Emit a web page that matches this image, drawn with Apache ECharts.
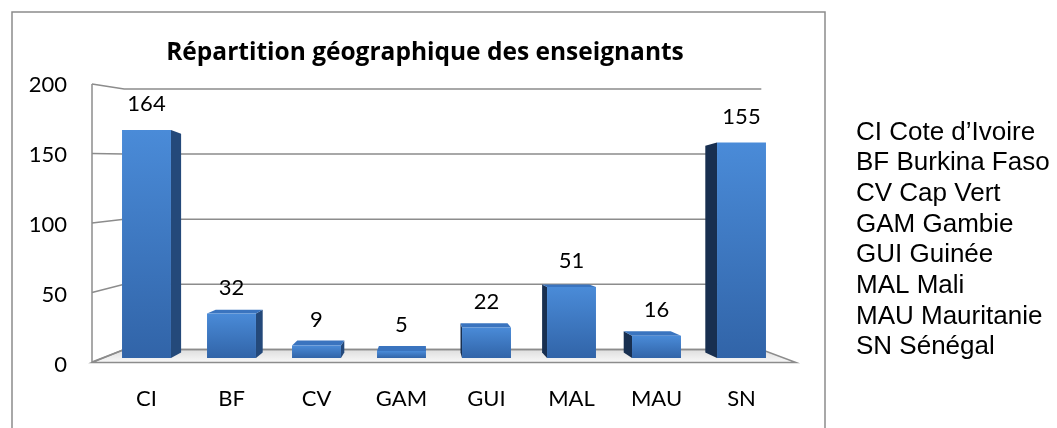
<!DOCTYPE html>
<html>
<head>
<meta charset="utf-8">
<script src="https://cdn.jsdelivr.net/npm/echarts@6/dist/echarts.min.js"></script>
<style>
  html, body { margin: 0; padding: 0; background: #fff; }
  #chart { width: 1057px; height: 428px; }
</style>
</head>
<body>
<div id="chart"></div>
<script>
// données
var categories = ['CI', 'BF', 'CV', 'GAM', 'GUI', 'MAL', 'MAU', 'SN'];
var enseignants = [164, 32, 9, 5, 22, 51, 16, 155];
var yTicks = [0, 50, 100, 150, 200];
var countryNames = ['Cote d\u2019Ivoire', 'Burkina Faso', 'Cap Vert', 'Gambie',
  'Guinée', 'Mali', 'Mauritanie', 'Sénégal'];

var chart = echarts.init(document.getElementById('chart'));

// point de fuite de la fausse perspective 3D
var VP = [424, 222];
function persp(x, y, s) {
  return [VP[0] + (x - VP[0]) * s, VP[1] + (y - VP[1]) * s];
}
var WALL = 0.937;   // mur du fond
var DEPTH = 0.96;   // arrière des barres
var GRID_COLOR = '#8c8c8c';

function renderWall(params, api) {
  var cs = params.coordSys;
  var y = api.coord([0, api.value(1)])[1];
  var left = cs.x, right = cs.x + cs.width;
  var b0 = persp(left, y, WALL);
  var b1 = persp(right, y, WALL);
  var f0 = [left - 12, y + 4];
  return {
    type: 'group',
    children: [
      { type: 'polyline', shape: { points: [f0, b0, b1] },
        style: { stroke: GRID_COLOR, lineWidth: 1.5, fill: null } }
    ]
  };
}

function renderFloor(params, api) {
  var cs = params.coordSys;
  var y0 = api.coord([0, 0])[1];
  var yTop = api.coord([0, 200])[1];
  var left = cs.x, right = cs.x + cs.width;
  var pts = [persp(left, y0, WALL), persp(right, y0, WALL),
    [right + 12, y0 + 4.5], [left - 12, y0 + 4.5]];
  return {
    type: 'group',
    children: [
      { type: 'polygon', shape: { points: pts },
        style: {
          fill: new echarts.graphic.LinearGradient(0, 0, 0, 1, [
            { offset: 0, color: '#dcdcdc' }, { offset: 1, color: '#fafafa' }
          ]),
          stroke: GRID_COLOR, lineWidth: 1.5
        } },
      { type: 'line', shape: { x1: left - 12, y1: yTop + 4, x2: left - 12, y2: y0 + 4.5 },
        style: { stroke: GRID_COLOR, lineWidth: 1.5 } }
    ]
  };
}

function renderBar(params, api) {
  var i = api.value(0), v = api.value(1);
  var top = api.coord([i, v]);
  var bot = api.coord([i, 0]);
  var w = api.size([1, 0])[0] * 0.576;
  var x0 = top[0] - w / 2, x1 = top[0] + w / 2;
  var yT = top[1], yB = bot[1];
  var children = [];
  if (x1 < VP[0]) {
    children.push({ type: 'polygon',
      shape: { points: [[x1, yT], persp(x1, yT, DEPTH), persp(x1, yB, DEPTH), [x1, yB]] },
      style: { fill: '#24497a' } });
  }
  if (x0 > VP[0]) {
    children.push({ type: 'polygon',
      shape: { points: [[x0, yT], persp(x0, yT, DEPTH), persp(x0, yB, DEPTH), [x0, yB]] },
      style: { fill: '#182f50' } });
  }
  if (yT > VP[1]) {
    children.push({ type: 'polygon',
      shape: { points: [[x0, yT], [x1, yT], persp(x1, yT, DEPTH), persp(x0, yT, DEPTH)] },
      style: { fill: '#3a74bf' } });
  }
  children.push({ type: 'rect', shape: { x: x0, y: yT, width: w, height: yB - yT },
    style: {
      fill: new echarts.graphic.LinearGradient(0, 0, 0, 1, [
        { offset: 0, color: '#4a8bd8' }, { offset: 1, color: '#3164a8' }
      ])
    } });
  children.push({ type: 'text',
    style: { x: top[0], y: yT - 26, text: String(v), align: 'center', verticalAlign: 'middle',
      font: '22px Lato', fill: '#000' } });
  return { type: 'group', children: children };
}

var legendLines = categories.map(function (c, i) { return c + ' ' + countryNames[i]; });

chart.setOption({
  backgroundColor: '#fff',
  animation: false,
  title: {
    text: 'Répartition géographique des enseignants',
    left: 420, top: 36, textAlign: 'center',
    textStyle: { fontFamily: 'Open Sans', fontWeight: 'bold', fontSize: 24.5, color: '#000' }
  },
  grid: [
    { left: 104, right: 273, top: 80, bottom: 70 },
    { left: 75, width: 10, top: 85, bottom: 63.5 }
  ],
  xAxis: [
    { type: 'category', gridIndex: 0, data: categories,
      axisLine: { show: false }, axisTick: { show: false },
      axisLabel: { margin: 30, fontFamily: 'Lato', fontSize: 22, color: '#000' } },
    { type: 'category', gridIndex: 1, show: false, data: [''] }
  ],
  yAxis: [
    { type: 'value', gridIndex: 0, min: 0, max: 200, interval: 50, show: false },
    { type: 'value', gridIndex: 1, min: 0, max: 200, interval: 50,
      axisLine: { show: false }, axisTick: { show: false }, splitLine: { show: false },
      axisLabel: { margin: 8, fontFamily: 'Lato', fontSize: 22, color: '#000' } }
  ],
  graphic: [
    { type: 'rect', shape: { x: 12, y: 12, width: 813, height: 440 },
      style: { fill: 'none', stroke: GRID_COLOR, lineWidth: 1.5 }, z: 0 },
    { type: 'text', left: 856, top: 117,
      style: { text: legendLines.join('\n'), font: '26px "Liberation Sans"',
        lineHeight: 30.7, fill: '#000' } }
  ],
  series: [
    { type: 'custom', name: 'sol', xAxisIndex: 0, yAxisIndex: 0, silent: true,
      renderItem: renderFloor, data: [[0, 0]], z: 1 },
    { type: 'custom', name: 'murs', xAxisIndex: 0, yAxisIndex: 0, silent: true,
      renderItem: renderWall, data: yTicks.map(function (v) { return [0, v]; }), z: 2 },
    { type: 'custom', name: 'Enseignants', xAxisIndex: 0, yAxisIndex: 0,
      renderItem: renderBar, encode: { x: 0, y: 1 },
      data: enseignants.map(function (v, i) { return [i, v]; }), z: 3 }
  ]
});
</script>
</body>
</html>
